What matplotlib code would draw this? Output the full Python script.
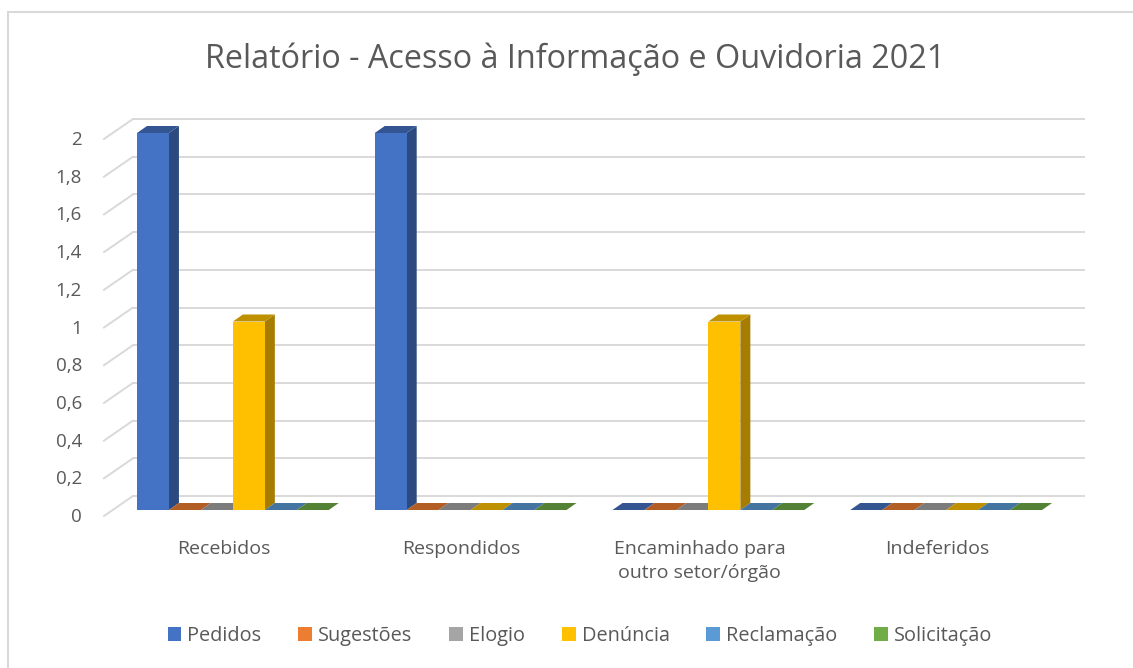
import matplotlib
matplotlib.use("Agg")
import matplotlib.pyplot as plt
import numpy as np
from matplotlib.patches import Polygon, Rectangle, Patch
from matplotlib.lines import Line2D
from matplotlib.transforms import IdentityTransform, offset_copy
from matplotlib.colors import to_rgb

# ---- data ----
categories = ["Recebidos", "Respondidos", "Encaminhado para\noutro setor/órgão", "Indeferidos"]
series = ["Pedidos", "Sugestões", "Elogio", "Denúncia", "Reclamação", "Solicitação"]
pedidos = [2, 2, 0, 0]
sugestoes = [0, 0, 0, 0]
elogio = [0, 0, 0, 0]
denuncia = [1, 0, 1, 0]
reclamacao = [0, 0, 0, 0]
solicitacao = [0, 0, 0, 0]
yticks = [0, 0.2, 0.4, 0.6, 0.8, 1, 1.2, 1.4, 1.6, 1.8, 2]
ytick_labels = ["0", "0,2", "0,4", "0,6", "0,8", "1", "1,2", "1,4", "1,6", "1,8", "2"]
title = "Relatório - Acesso à Informação e Ouvidoria 2021"

values = [pedidos, sugestoes, elogio, denuncia, reclamacao, solicitacao]
colors = ["#4472C4", "#ED7D31", "#A5A5A5", "#FFC000", "#5B9BD5", "#70AD47"]

FONT = ["Open Sans", "DejaVu Sans"]
plt.rcParams["font.family"] = FONT
TXT = "#595959"
GRID = "#D9D9D9"

W, H, DPI = 1133, 668, 100
fig = plt.figure(figsize=(W / DPI, H / DPI), dpi=DPI)
fig.patch.set_facecolor("white")

# chart border
fig.add_artist(Rectangle((8 / W, -0.05), 1.2, 1 - 12 / H + 0.05, transform=fig.transFigure,
                         fill=False, edgecolor=GRID, lw=1.5))

ax = fig.add_axes([114 / W, (H - 510) / H, 951 / W, 377 / H])
ax.set_xlim(-0.5, len(categories) - 0.5)
ax.set_ylim(0, 2)
ax.axis("off")

back = np.array([19.0, 14.0])
front = np.array([-10.0, -6.0])
depth = np.array([10.0, 7.0])

ident = IdentityTransform()

def disp(x, y):
    return np.array(ax.transData.transform((x, y)))

# gridlines: back wall + left side diagonals
x0, x1 = ax.get_xlim()
for v in yticks:
    p0 = disp(x0, v)
    p1 = disp(x1, v)
    ax.add_line(Line2D([p0[0] + back[0], p1[0] + back[0]], [p0[1] + back[1], p1[1] + back[1]],
                       transform=ident, color=GRID, lw=1.4, zorder=1, clip_on=False))
    ax.add_line(Line2D([p0[0] + front[0], p0[0] + back[0]], [p0[1] + front[1], p0[1] + back[1]],
                       transform=ident, color=GRID, lw=1.4, zorder=1, clip_on=False))

# tick labels
for v, lab in zip(yticks, ytick_labels):
    tr = offset_copy(ax.transData, fig=fig, x=-32, y=-7, units="dots")
    ax.text(x0, v, lab, transform=tr, ha="right", va="center", fontsize=13.5, color=TXT, clip_on=False)

# category labels
for j, c in enumerate(categories):
    tr = offset_copy(ax.transData, fig=fig, x=-9, y=-30, units="dots")
    ax.text(j, 0, c, transform=tr, ha="center", va="top", fontsize=14, color=TXT,
            linespacing=1.45, clip_on=False)

# 3D bars
nser = len(series)
bw = 32 / 238
gw = nser * bw

def shade(c, f):
    r, g, b = to_rgb(c)
    return (r * f, g * f, b * f)

z = 2
for j in range(len(categories)):
    for i in range(nser):
        v = values[i][j]
        xl = j - gw / 2 + i * bw
        bl = disp(xl, 0)
        br = disp(xl + bw, 0)
        tl = disp(xl, v)
        trr = disp(xl + bw, v)
        col = colors[i]
        if v > 0:
            side = [br, trr, trr + depth, br + depth]
            ax.add_patch(Polygon(side, closed=True, transform=ident, facecolor=shade(col, 0.65),
                                 edgecolor="none", zorder=z, clip_on=False))
        top = [tl, trr, trr + depth, tl + depth]
        ax.add_patch(Polygon(top, closed=True, transform=ident, facecolor=shade(col, 0.75),
                             edgecolor="none", zorder=z + 0.1, clip_on=False))
        if v > 0:
            ax.add_patch(Polygon([bl, br, trr, tl], closed=True, transform=ident, facecolor=col,
                                 edgecolor="none", zorder=z + 0.2, clip_on=False))
        z += 1

# title
fig.text(575 / W, 1 - 68 / H, title, ha="center", va="baseline", fontsize=23.3, color=TXT)

# legend
handles = [Patch(facecolor=c, edgecolor="none") for c in colors]
fig.legend(handles, series, loc="center", bbox_to_anchor=(580 / W, 1 - 636 / H), ncol=6,
           frameon=False, fontsize=14.3, handlelength=0.7, handleheight=0.7, handletextpad=0.3,
           columnspacing=1.85, labelcolor=TXT)

fig.savefig("out.png", dpi=DPI)
